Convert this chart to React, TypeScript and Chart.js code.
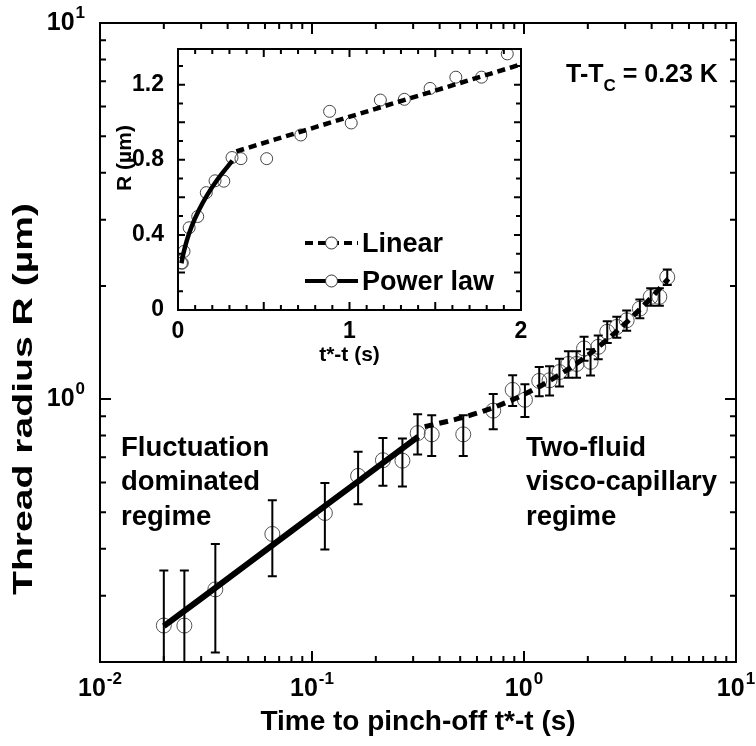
import React, { useEffect, useRef } from "react";
import { Chart, registerables } from "chart.js";

Chart.register(...registerables);

// ---- data ----
const timeS = [0.02, 0.025, 0.035, 0.065, 0.115, 0.165, 0.216, 0.267, 0.315, 0.367, 0.517, 0.716, 0.884, 1.01, 1.18, 1.32, 1.47, 1.62, 1.77, 1.92, 2.06, 2.24, 2.47, 2.74, 3.05, 3.52, 3.96, 4.35, 4.74];
const radiusUm = [0.25, 0.25, 0.312, 0.438, 0.498, 0.625, 0.688, 0.686, 0.812, 0.806, 0.806, 0.932, 1.058, 0.996, 1.118, 1.122, 1.18, 1.24, 1.24, 1.364, 1.256, 1.377, 1.51, 1.556, 1.62, 1.74, 1.87, 1.87, 2.11];
const errorUm = [0.1, 0.1, 0.1, 0.1, 0.1, 0.1, 0.1, 0.1, 0.1, 0.1, 0.1, 0.1, 0.1, 0.1, 0.1, 0.1, 0.1, 0.1, 0.1, 0.1, 0.1, 0.1, 0.1, 0.1, 0.1, 0.1, 0.1, 0.1, 0.1];

const powerLawT = [0.02, 0.03, 0.05, 0.08, 0.12, 0.17, 0.23, 0.317];
const powerLawR = [0.249, 0.295, 0.366, 0.446, 0.529, 0.612, 0.695, 0.795];

const linearT = [0.34, 0.5, 0.7, 1.0, 1.5, 2.0, 2.5, 3.0, 3.5, 4.0, 4.8];
const linearR = [0.845, 0.89, 0.945, 1.029, 1.169, 1.308, 1.448, 1.587, 1.727, 1.866, 2.089];

const xDecadeTicks = [0.01, 0.1, 1, 10];
const xDecadeExps = ["-2", "-1", "0", "1"];
const yDecadeTicks = [1, 10];
const yDecadeExps = ["0", "1"];

const insetXLabels = [0, 1, 2];
const insetYLabels = [0, 0.4, 0.8, 1.2];
const insetXMax = 2;

const FONT = '"Liberation Sans", Arial, Helvetica, sans-serif';

function pts(xs: number[], ys: number[]) {
  return xs.map((x, i) => ({ x, y: ys[i] }));
}

function drawPow(ctx: CanvasRenderingContext2D, exp: string, x: number, y: number, align: "center" | "right") {
  ctx.save();
  ctx.fillStyle = "#000";
  ctx.textBaseline = "middle";
  ctx.textAlign = "left";
  ctx.font = `bold 25px ${FONT}`;
  const w1 = ctx.measureText("10").width;
  ctx.font = `bold 17px ${FONT}`;
  const w2 = ctx.measureText(exp).width;
  const total = w1 + w2 + 1;
  const start = align === "center" ? x - total / 2 : x - total;
  ctx.font = `bold 25px ${FONT}`;
  ctx.fillText("10", start, y);
  ctx.font = `bold 17px ${FONT}`;
  ctx.fillText(exp, start + w1 + 1, y - 10);
  ctx.restore();
}

const mainPlugin = {
  id: "mainDecor",
  beforeDraw(chart: any) {
    const ctx = chart.ctx;
    ctx.save();
    ctx.fillStyle = "#fff";
    ctx.fillRect(0, 0, chart.width, chart.height);
    ctx.restore();
  },
  afterDatasetsDraw(chart: any) {
    const ctx: CanvasRenderingContext2D = chart.ctx;
    const xs = chart.scales.x;
    const ys = chart.scales.y;
    const a = chart.chartArea;
    // error bars
    ctx.save();
    ctx.beginPath();
    ctx.rect(a.left, a.top, a.right - a.left, a.bottom - a.top);
    ctx.clip();
    ctx.strokeStyle = "#000";
    ctx.lineWidth = 2;
    timeS.forEach((t, i) => {
      const px = xs.getPixelForValue(t);
      const hi = ys.getPixelForValue(radiusUm[i] + errorUm[i]);
      const lo = ys.getPixelForValue(Math.max(radiusUm[i] - errorUm[i], 0.01));
      ctx.beginPath();
      ctx.moveTo(px, hi);
      ctx.lineTo(px, lo);
      ctx.moveTo(px - 4.5, hi);
      ctx.lineTo(px + 4.5, hi);
      ctx.moveTo(px - 4.5, lo);
      ctx.lineTo(px + 4.5, lo);
      ctx.stroke();
    });
    ctx.restore();
  },
  afterDraw(chart: any) {
    const ctx: CanvasRenderingContext2D = chart.ctx;
    const xs = chart.scales.x;
    const ys = chart.scales.y;
    const a = chart.chartArea;
    ctx.save();
    ctx.strokeStyle = "#000";
    ctx.lineWidth = 2;
    ctx.strokeRect(a.left, a.top, a.right - a.left, a.bottom - a.top);
    // log ticks
    ctx.beginPath();
    for (let d = -2; d <= 1; d++) {
      for (let m = 1; m <= 9; m++) {
        const v = m * Math.pow(10, d);
        if (v < 0.01 - 1e-9 || v > 10 + 1e-9) continue;
        const px = xs.getPixelForValue(v);
        const len = m === 1 ? 11 : 6;
        ctx.moveTo(px, a.bottom);
        ctx.lineTo(px, a.bottom - len);
        ctx.moveTo(px, a.top);
        ctx.lineTo(px, a.top + len);
      }
    }
    for (let d = -1; d <= 1; d++) {
      for (let m = 1; m <= 9; m++) {
        const v = m * Math.pow(10, d);
        if (v < 0.2 - 1e-9 || v > 10 + 1e-9) continue;
        const py = ys.getPixelForValue(v);
        const len = m === 1 ? 11 : 6;
        ctx.moveTo(a.left, py);
        ctx.lineTo(a.left + len, py);
        ctx.moveTo(a.right, py);
        ctx.lineTo(a.right - len, py);
      }
    }
    ctx.stroke();
    ctx.restore();

    xDecadeTicks.forEach((v, i) => drawPow(ctx, xDecadeExps[i], xs.getPixelForValue(v), a.bottom + 27, "center"));
    yDecadeTicks.forEach((v, i) => drawPow(ctx, yDecadeExps[i], a.left - 15, ys.getPixelForValue(v), "right"));

    ctx.save();
    ctx.fillStyle = "#000";
    ctx.font = `bold 28px ${FONT}`;
    ctx.textAlign = "center";
    ctx.textBaseline = "middle";
    ctx.fillText("Time to pinch-off t*-t (s)", (a.left + a.right) / 2, 722);
    // y title: elongated along its length as in the reference
    ctx.save();
    ctx.font = `bold 28px ${FONT}`;
    const yTitle = "Thread radius R (\u00b5m)";
    const tw = ctx.measureText(yTitle).width;
    const stretch = 392 / tw;
    ctx.translate(24, 399);
    ctx.rotate(-Math.PI / 2);
    ctx.scale(stretch, 1);
    ctx.fillText(yTitle, 0, 0);
    ctx.restore();

    ctx.textAlign = "left";
    ctx.font = `bold 27.5px ${FONT}`;
    const lines1 = ["Fluctuation", "dominated", "regime"];
    const lines2 = ["Two-fluid", "visco-capillary", "regime"];
    const ly = [448, 482, 517];
    lines1.forEach((s, i) => ctx.fillText(s, 121, ly[i]));
    lines2.forEach((s, i) => ctx.fillText(s, 526, ly[i]));

    // T-Tc label
    ctx.font = `bold 25px ${FONT}`;
    let x = 566;
    ctx.fillText("T-T", x, 75);
    x += ctx.measureText("T-T").width;
    ctx.font = `bold 17px ${FONT}`;
    ctx.fillText("C", x, 86);
    x += ctx.measureText("C").width;
    ctx.font = `bold 25px ${FONT}`;
    ctx.fillText(" = 0.23 K", x, 75);
    ctx.restore();
  },
};

const insetPlugin = {
  id: "insetDecor",
  beforeDatasetsDraw(chart: any) {
    const ctx = chart.ctx;
    const a = chart.chartArea;
    ctx.save();
    ctx.fillStyle = "#fff";
    ctx.fillRect(a.left, a.top, a.right - a.left, a.bottom - a.top);
    ctx.restore();
  },
  afterDraw(chart: any) {
    const ctx: CanvasRenderingContext2D = chart.ctx;
    const xs = chart.scales.x;
    const ys = chart.scales.y;
    const a = chart.chartArea;
    ctx.save();
    ctx.strokeStyle = "#000";
    ctx.lineWidth = 2;
    ctx.strokeRect(a.left, a.top, a.right - a.left, a.bottom - a.top);
    ctx.beginPath();
    for (let k = 0; k <= 20; k++) {
      const v = k / 10;
      const px = xs.getPixelForValue(v);
      const len = k % 5 === 0 ? 8 : 5;
      ctx.moveTo(px, a.bottom);
      ctx.lineTo(px, a.bottom - len);
      ctx.moveTo(px, a.top);
      ctx.lineTo(px, a.top + len);
    }
    for (let k = 0; k <= 13; k++) {
      const v = k / 10;
      const py = ys.getPixelForValue(v);
      const len = k % 2 === 0 ? 7 : 5;
      ctx.moveTo(a.left, py);
      ctx.lineTo(a.left + len, py);
      ctx.moveTo(a.right, py);
      ctx.lineTo(a.right - len, py);
    }
    ctx.stroke();

    ctx.fillStyle = "#000";
    ctx.font = `bold 23px ${FONT}`;
    ctx.textBaseline = "middle";
    ctx.textAlign = "right";
    insetYLabels.forEach((v) => ctx.fillText(v === 0 ? "0" : v.toFixed(1), a.left - 14, ys.getPixelForValue(v)));
    ctx.textAlign = "center";
    insetXLabels.forEach((v) => ctx.fillText(String(v), xs.getPixelForValue(v), a.bottom + 22));
    ctx.font = `bold 21px ${FONT}`;
    ctx.fillText("t*-t (s)", (a.left + a.right) / 2, a.bottom + 45);
    ctx.save();
    ctx.translate(125, 158);
    ctx.rotate(-Math.PI / 2);
    ctx.fillText("R (\u00b5m)", 0, 0);
    ctx.restore();

    // legend
    const lx0 = 305, lx1 = 358, tx = 362;
    const rows = [
      { label: "Linear", y: 243, dash: [8, 5] },
      { label: "Power law", y: 281, dash: [] as number[] },
    ];
    rows.forEach((r) => {
      ctx.save();
      ctx.lineWidth = 4;
      ctx.setLineDash(r.dash);
      ctx.beginPath();
      ctx.moveTo(lx0, r.y);
      ctx.lineTo(lx1, r.y);
      ctx.stroke();
      ctx.setLineDash([]);
      ctx.lineWidth = 1;
      ctx.strokeStyle = "#333";
      ctx.fillStyle = "#fff";
      ctx.beginPath();
      ctx.arc((lx0 + lx1) / 2, r.y, 6, 0, Math.PI * 2);
      ctx.fill();
      ctx.stroke();
      ctx.restore();
      ctx.textAlign = "left";
      ctx.font = `bold 27px ${FONT}`;
      ctx.fillText(r.label, tx, r.y + 2);
    });
    ctx.restore();
  },
};

export default function App() {
  const mainRef = useRef<HTMLCanvasElement>(null);
  const insetRef = useRef<HTMLCanvasElement>(null);

  useEffect(() => {
    const W = 756, H = 746;
    const mainChart = new Chart(mainRef.current as HTMLCanvasElement, {
      type: "scatter",
      data: {
        datasets: [
          {
            type: "line",
            data: pts(powerLawT, powerLawR),
            borderColor: "#000",
            borderWidth: 6,
            pointRadius: 0,
            fill: false,
          } as any,
          {
            type: "line",
            data: pts(linearT, linearR),
            borderColor: "#000",
            borderWidth: 5,
            borderDash: [9, 6],
            pointRadius: 0,
            fill: false,
            cubicInterpolationMode: "monotone",
          } as any,
          {
            type: "scatter",
            data: pts(timeS, radiusUm),
            pointRadius: 7.5,
            pointBorderColor: "#555",
            pointBorderWidth: 1,
            pointBackgroundColor: "rgba(0,0,0,0)",
          } as any,
        ],
      },
      options: {
        responsive: false,
        animation: false,
        devicePixelRatio: 1,
        layout: { padding: { left: 100, top: 23, right: W - 736, bottom: H - 662 } },
        scales: {
          x: { type: "logarithmic", min: 0.01, max: 10, display: false },
          y: { type: "logarithmic", min: 0.2, max: 10, display: false },
        },
        plugins: { legend: { display: false }, tooltip: { enabled: false } },
      },
      plugins: [mainPlugin],
    });

    const insetPts = timeS
      .map((t, i) => ({ x: t, y: radiusUm[i] }))
      .filter((p) => p.x <= insetXMax);

    const insetChart = new Chart(insetRef.current as HTMLCanvasElement, {
      type: "scatter",
      data: {
        datasets: [
          {
            type: "line",
            data: pts(powerLawT, powerLawR),
            borderColor: "#000",
            borderWidth: 4.5,
            pointRadius: 0,
            fill: false,
            cubicInterpolationMode: "monotone",
          } as any,
          {
            type: "line",
            data: pts([linearT[0], 2.0], [linearR[0], linearR[5]]),
            borderColor: "#000",
            borderWidth: 4.5,
            borderDash: [8, 5],
            pointRadius: 0,
            fill: false,
          } as any,
          {
            type: "scatter",
            data: insetPts,
            pointRadius: 6,
            pointBorderColor: "#444",
            pointBorderWidth: 1,
            pointBackgroundColor: "rgba(0,0,0,0)",
          } as any,
        ],
      },
      options: {
        responsive: false,
        animation: false,
        devicePixelRatio: 1,
        layout: { padding: { left: 178, top: 49, right: W - 521, bottom: H - 310 } },
        scales: {
          x: { type: "linear", min: 0, max: 2, display: false },
          y: { type: "linear", min: 0, max: 1.39, display: false },
        },
        plugins: { legend: { display: false }, tooltip: { enabled: false } },
      },
      plugins: [insetPlugin],
    });

    return () => {
      mainChart.destroy();
      insetChart.destroy();
    };
  }, []);

  const cs: React.CSSProperties = { position: "absolute", left: 0, top: 0, width: 756, height: 746 };
  return (
    <div style={{ position: "fixed", left: 0, top: 0, width: 756, height: 746, background: "#fff" }}>
      <canvas ref={mainRef} width={756} height={746} style={cs} />
      <canvas ref={insetRef} width={756} height={746} style={cs} />
    </div>
  );
}
